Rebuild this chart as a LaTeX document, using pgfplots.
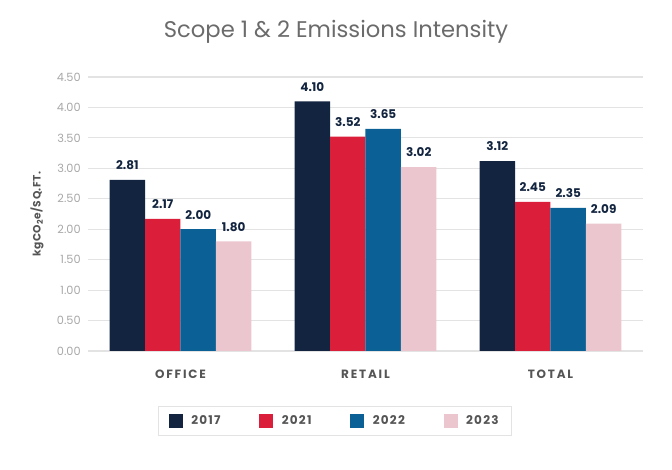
\documentclass[border=0pt]{standalone}
\usepackage{pgfplots}
\pgfplotsset{compat=1.18}
\usepackage{fontspec}
\setmainfont{Poppins}
\definecolor{c17}{HTML}{12243F}
\definecolor{c21}{HTML}{DB1F3A}
\definecolor{c22}{HTML}{0B6195}
\definecolor{c23}{HTML}{EBC6CF}
\definecolor{titlegray}{HTML}{6B6B6B}
\definecolor{tickgray}{HTML}{A8A8A8}
\definecolor{gridgray}{HTML}{E3E3E3}
\definecolor{labgray}{HTML}{555555}
\begin{document}
\begin{tikzpicture}
\useasboundingbox (-66pt,-89.25pt) rectangle (438pt,263.25pt);
\begin{axis}[
  at={(0,0)}, anchor=south west,
  scale only axis,
  width=416.25pt, height=205.5pt,
  xmin=-0.5, xmax=2.5,
  ymin=0, ymax=4.5,
  ybar=0pt, bar width=26.6pt,
  xtick={0,1,2},
  xticklabels={OFFICE,RETAIL,TOTAL},
  ytick={0,0.5,...,4.5},
  yticklabel={\pgfmathprintnumber[fixed,fixed zerofill,precision=2,assume math mode=true]{\tick}},
  axis line style={draw=none},
  major tick length=0pt,
  ymajorgrids,
  grid style={gridgray, line width=0.8pt},
  yticklabel style={font=\fontsize{8.5}{10}\selectfont, color=tickgray, xshift=-2pt},
  xticklabel style={font=\fontsize{9}{10}\selectfont\bfseries\addfontfeature{LetterSpace=15}, color=labgray, yshift=-11pt},
  ylabel={kgCO\textsubscript{2}e/SQ.FT.},
  ylabel style={font=\fontsize{8}{10}\selectfont\bfseries\addfontfeature{LetterSpace=5}, color=labgray, at={(axis description cs:-0.092,0.5)}, anchor=center, rotate=0},
  nodes near coords={\pgfmathprintnumber[fixed,fixed zerofill,precision=2,assume math mode=true]{\pgfplotspointmeta}},
  nodes near coords style={font=\fontsize{9}{10}\selectfont\bfseries, color=c17, yshift=4pt},
  legend columns=4,
  legend style={at={(rel axis cs:0.445,-0.255)}, anchor=center, draw=gridgray, line width=0.8pt,
    font=\fontsize{9}{10}\selectfont\bfseries\addfontfeature{LetterSpace=10}, text=labgray,
    inner xsep=8pt, inner ysep=5pt,
    /tikz/every odd column/.append style={column sep=4.5pt},
    /tikz/every even column/.append style={column sep=27pt}},
  legend image code/.code={\fill[#1] (0pt,-5pt) rectangle (10.5pt,5.5pt);},
]
\addplot[fill=c17, draw=none] coordinates {(0,2.81) (1,4.10) (2,3.12)};
\addplot[fill=c21, draw=none] coordinates {(0,2.17) (1,3.52) (2,2.45)};
\addplot[fill=c22, draw=none] coordinates {(0,2.00) (1,3.65) (2,2.35)};
\addplot[fill=c23, draw=none] coordinates {(0,1.80) (1,3.02) (2,2.09)};
\legend{2017,2021,2022,2023}
\end{axis}
\node[font=\fontsize{17}{20}\selectfont, color=titlegray] at (186pt,239.25pt) {Scope 1 \& 2 Emissions Intensity};
\end{tikzpicture}
\end{document}
